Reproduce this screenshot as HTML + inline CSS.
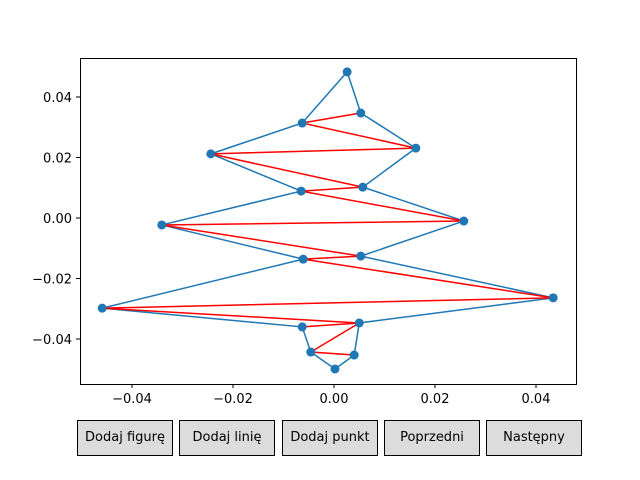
<!DOCTYPE html>
<html><head><meta charset="utf-8"><style>
body{margin:0;background:#fff;font-family:"DejaVu Sans","Liberation Sans",sans-serif}
.btn{position:absolute;top:420px;width:94px;height:34px;background:#dcdcdc;border:1px solid #000;font-size:13px;line-height:34px;text-align:center;color:#000;white-space:nowrap}
</style></head><body>
<div style="position:relative;width:640px;height:480px">
<svg id="c" width="640" height="480" style="position:absolute;left:0;top:0;font-family:'DejaVu Sans','Liberation Sans',sans-serif"></svg>
<div class="btn" style="left:77px">Dodaj figurę</div>
<div class="btn" style="left:179px">Dodaj linię</div>
<div class="btn" style="left:282px">Dodaj punkt</div>
<div class="btn" style="left:384px">Poprzedni</div>
<div class="btn" style="left:486px">Następny</div>
</div>
<script>
const xs=[0.0026,0.0053,-0.0063,0.0162,-0.0244,0.0057,-0.0065,0.0257,-0.0341,0.0053,-0.0061,0.0434,-0.0459,0.0050,-0.0063,-0.0046,0.0040,0.0002];
const ys=[0.0483,0.0347,0.0314,0.0231,0.0212,0.0102,0.0089,-0.0010,-0.0023,-0.0126,-0.0136,-0.0264,-0.0298,-0.0347,-0.0360,-0.0443,-0.0453,-0.0499];
const blueOrder=[0,2,4,6,8,10,12,14,15,17,16,13,11,9,7,5,3,1,0];
const redOrder=[1,2,3,4,5,6,7,8,9,10,11,12,13,14,13,15,16];
const xTicks=[-0.04,-0.02,0,0.02,0.04];
const xLabels=["−0.04","−0.02","0.00","0.02","0.04"];
const yTicks=[0.04,0.02,0,-0.02,-0.04];
const yLabels=["0.04","0.02","0.00","−0.02","−0.04"];
const X=v=>334+v*5050, Y=v=>218-v*3025;
const s=document.getElementById('c');const NS='http://www.w3.org/2000/svg';
function mk(t,a,p){const e=document.createElementNS(NS,t);for(const k in a)e.setAttribute(k,a[k]);(p||s).appendChild(e);return e;}
const ax=mk('rect',{x:80.5,y:58.5,width:496,height:326,fill:'none',stroke:'#000','stroke-width':1});


xTicks.forEach((v,i)=>{const x=X(v);
const t=mk('line',{x1:x,x2:x,y1:384,y2:388,stroke:'#000'});


const l=mk('text',{x:x,y:403,'text-anchor':'middle','font-size':13});l.textContent=xLabels[i];

});
yTicks.forEach((v,i)=>{const y=Y(v);
const t=mk('line',{x1:76,x2:80,y1:y,y2:y,stroke:'#000'});


const l=mk('text',{x:72,y:y+5,'text-anchor':'end','font-size':13});l.textContent=yLabels[i];

});
const bl=mk('polyline',{points:blueOrder.map(i=>X(xs[i])+','+Y(ys[i])).join(' '),fill:'none',stroke:'#1f77b4','stroke-width':1.5});


const rl=mk('polyline',{points:redOrder.map(i=>X(xs[i])+','+Y(ys[i])).join(' '),fill:'none',stroke:'#ff0000','stroke-width':1.5});


xs.forEach((v,i)=>{const c=mk('circle',{cx:X(v),cy:Y(ys[i]),r:4.5,fill:'#1f77b4'});

});
</script></body></html>
